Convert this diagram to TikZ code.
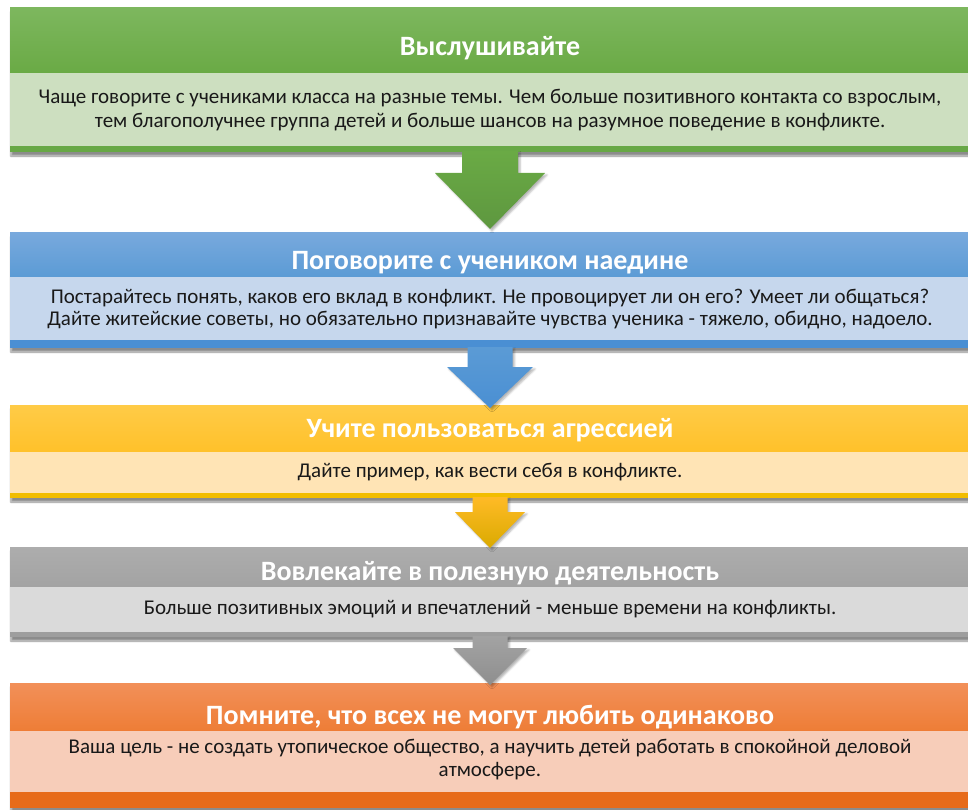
\documentclass[tikz,border=0pt]{standalone}
\usepackage{fontspec}
\setmainfont{Carlito}
\usetikzlibrary{calc,shadows.blur}
\definecolor{gT}{HTML}{7DB75E}\definecolor{gB}{HTML}{6AAA45}\definecolor{gL}{HTML}{CDDFC0}\definecolor{gS}{HTML}{68A846}
\definecolor{bT}{HTML}{78A9DD}\definecolor{bB}{HTML}{5B9BD5}\definecolor{bL}{HTML}{C6D7ED}\definecolor{bS}{HTML}{4A8FD3}
\definecolor{yT}{HTML}{FFCB47}\definecolor{yB}{HTML}{FFC12A}\definecolor{yL}{HTML}{FFE4B5}\definecolor{yS}{HTML}{F2BD00}
\definecolor{aT}{HTML}{ADADAD}\definecolor{aB}{HTML}{A3A3A3}\definecolor{aL}{HTML}{DADADA}\definecolor{aS}{HTML}{9E9E9E}
\definecolor{oT}{HTML}{F29059}\definecolor{oB}{HTML}{EE7D36}\definecolor{oL}{HTML}{F7CDB9}\definecolor{oS}{HTML}{E76B1A}
\tikzset{
  band/.style={rectangle, inner sep=0pt, outer sep=0pt, minimum width=960pt},
  ttl/.style={text=white, font=\fontsize{28}{32}\selectfont\bfseries, inner sep=0pt},
  bodytxt/.style={text=black!90, align=center, inner sep=0pt},
  shadowbox/.style={blur shadow={shadow xshift=1pt, shadow yshift=-4pt, shadow blur steps=6, shadow opacity=45}}
}
\begin{document}
\begin{tikzpicture}[x=1pt,y=-1pt]
\useasboundingbox (0,0) rectangle (968,810);
\clip (0,0) rectangle (968,810);
% shadows
\path[shadowbox, fill=white] (10,8) rectangle (970,152);
\path[shadowbox, fill=white] (10,233) rectangle (970,348);
\path[shadowbox, fill=white] (10,405) rectangle (970,498);
\path[shadowbox, fill=white] (10,547) rectangle (970,637);
\path[shadowbox, fill=white] (10,683) rectangle (970,808);
% box 1
\node[band, top color=gT, bottom color=gB, minimum height=65pt] (h1) at (490,40.5) {};
\node[band, fill=gL, minimum height=73pt] (b1) at (490,109.5) {};
\node[band, fill=gS, minimum height=6pt] (s1) at (490,149) {};
\node[ttl] (t1) at (490,48) {Выслушивайте};
\node[bodytxt, font=\fontsize{21}{24}\selectfont] (x1) at (490,110) {Чаще говорите с учениками класса на разные темы. Чем больше позитивного контакта со взрослым,\\тем благополучнее группа детей и больше шансов на разумное поведение в конфликте.};
% box 2
\node[band, top color=bT, bottom color=bB, minimum height=44pt] (h2) at (490,255) {};
\node[band, fill=bL, minimum height=63pt] (b2) at (490,308.5) {};
\node[band, fill=bS, minimum height=8pt] (s2) at (490,344) {};
\node[ttl] (t2) at (490,263) {Поговорите с учеником наедине};
\node[bodytxt, font=\fontsize{21}{22}\selectfont] (x2) at (490,309) {Постарайтесь понять, каков его вклад в конфликт. Не провоцирует ли он его? Умеет ли общаться?\\Дайте житейские советы, но обязательно признавайте чувства ученика - тяжело, обидно, надоело.};
% box 3
\node[band, top color=yT, bottom color=yB, minimum height=47pt] (h3) at (490,428.5) {};
\node[band, fill=yL, minimum height=41pt] (b3) at (490,472.5) {};
\node[band, fill=yS, minimum height=5pt] (s3) at (490,495.5) {};
\node[ttl] (t3) at (490,430) {Учите пользоваться агрессией};
\node[bodytxt, font=\fontsize{21}{22}\selectfont] (x3) at (490,472) {Дайте пример, как вести себя в конфликте.};
% box 4
\node[band, top color=aT, bottom color=aB, minimum height=40pt] (h4) at (490,567) {};
\node[band, fill=aL, minimum height=45pt] (b4) at (490,609.5) {};
\node[band, fill=aS, minimum height=5pt] (s4) at (490,634.5) {};
\node[ttl] (t4) at (490,573) {Вовлекайте в полезную деятельность};
\node[bodytxt, font=\fontsize{21}{22}\selectfont] (x4) at (490,609) {Больше позитивных эмоций и впечатлений - меньше времени на конфликты.};
% box 5
\node[band, top color=oT, bottom color=oB, minimum height=48pt] (h5) at (490,707) {};
\node[band, fill=oL, minimum height=61pt] (b5) at (490,761.5) {};
\node[band, fill=oS, minimum height=16pt] (s5) at (490,800) {};
\node[ttl] (t5) at (490,717) {Помните, что всех не могут любить одинаково};
\node[bodytxt, font=\fontsize{21}{23}\selectfont] (x5) at (490,760) {Ваша цель - не создать утопическое общество, а научить детей работать в спокойной деловой\\атмосфере.};
% arrows
\shade[top color=gB, bottom color=gS!90!black, blur shadow={shadow xshift=2pt, shadow yshift=-2pt, shadow opacity=30}]
  ($(s1.south)+(-28,-1)$) -- ($(s1.south)+(-28,21)$) -- ($(s1.south)+(-55,21)$) -- ($(h2.north)+(0,-4)$)
  -- ($(s1.south)+(55,21)$) -- ($(s1.south)+(28,21)$) -- ($(s1.south)+(28,-1)$) -- cycle;
\shade[top color=bB, bottom color=bS, blur shadow={shadow xshift=2pt, shadow yshift=-2pt, shadow opacity=30}]
  ($(s2.south)+(-22.5,-1)$) -- ($(s2.south)+(-22.5,19)$) -- ($(s2.south)+(-43,19)$) -- ($(h3.north)+(0,3)$)
  -- ($(s2.south)+(43,19)$) -- ($(s2.south)+(22.5,19)$) -- ($(s2.south)+(22.5,-1)$) -- cycle;
\shade[top color=yB!90!orange, bottom color=yS!90!black, blur shadow={shadow xshift=2pt, shadow yshift=-2pt, shadow opacity=30}]
  ($(s3.south)+(-17.5,-1)$) -- ($(s3.south)+(-17.5,14)$) -- ($(s3.south)+(-35,14)$) -- ($(h4.north)+(0,1)$)
  -- ($(s3.south)+(35,14)$) -- ($(s3.south)+(17.5,14)$) -- ($(s3.south)+(17.5,-1)$) -- cycle;
\shade[top color=aB, bottom color=aS!90!black, blur shadow={shadow xshift=2pt, shadow yshift=-2pt, shadow opacity=30}]
  ($(s4.south)+(-17.5,-1)$) -- ($(s4.south)+(-17.5,11)$) -- ($(s4.south)+(-37,11)$) -- ($(h5.north)+(0,2)$)
  -- ($(s4.south)+(37,11)$) -- ($(s4.south)+(17.5,11)$) -- ($(s4.south)+(17.5,-1)$) -- cycle;
\end{tikzpicture}
\end{document}
